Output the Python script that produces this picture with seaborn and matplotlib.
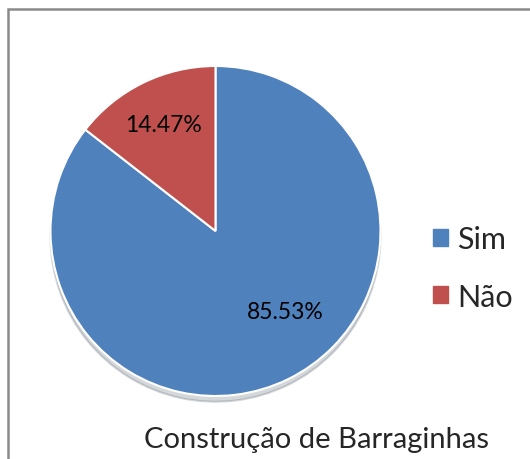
import seaborn as sns
import matplotlib
matplotlib.use("Agg")
import matplotlib.pyplot as plt
from matplotlib.patches import Rectangle, Patch

sns.set_style("white")
plt.rcParams['font.family'] = ['Lato', 'DejaVu Sans']

# data
labels = ["Sim", "Não"]
values = [85.53, 14.47]
colors = ["#4F81BD", "#C0504D"]
title = "Construção de Barraginhas"

fig = plt.figure(figsize=(5.3, 4.6), dpi=100)
fig.patch.set_facecolor("white")

# chart area border (Excel style)
fig.patches.append(Rectangle((8 / 530, -0.1), 1.2, 450 / 460 + 0.1,
                             transform=fig.transFigure, fill=False,
                             edgecolor="#8a8a8a", linewidth=1.8, zorder=0))

ax = fig.add_axes([50.5 / 530, 63 / 460, 330 / 530, 330 / 460])
wedges, texts, autotexts = ax.pie(
    values, colors=colors, startangle=90, counterclock=False,
    autopct="%.2f%%", pctdistance=0.72,
    wedgeprops=dict(edgecolor="white", linewidth=1.5),
    shadow=dict(ox=0.0, oy=-0.025, alpha=0.18),
    textprops=dict(fontsize=16.5, color="black"))
# Excel "best fit" places the big label off the wedge centre
autotexts[0].set_position((0.42, -0.49))
ax.set_xlim(-1.0, 1.0)
ax.set_ylim(-1.0, 1.0)
ax.set_aspect("equal")
ax.axis("off")

handles = [Patch(facecolor=c, edgecolor=c) for c in colors]
fig.legend(handles, labels, loc="center left", bbox_to_anchor=(433 / 530, 1 - 269 / 460),
           frameon=False, fontsize=22, handlelength=0.5, handleheight=0.5,
           handletextpad=0.3, labelspacing=0.95, borderpad=0, borderaxespad=0)

fig.text(316 / 530, 1 - 440 / 460, title, ha="center", va="center", fontsize=21)

fig.savefig("out.png", dpi=100)
